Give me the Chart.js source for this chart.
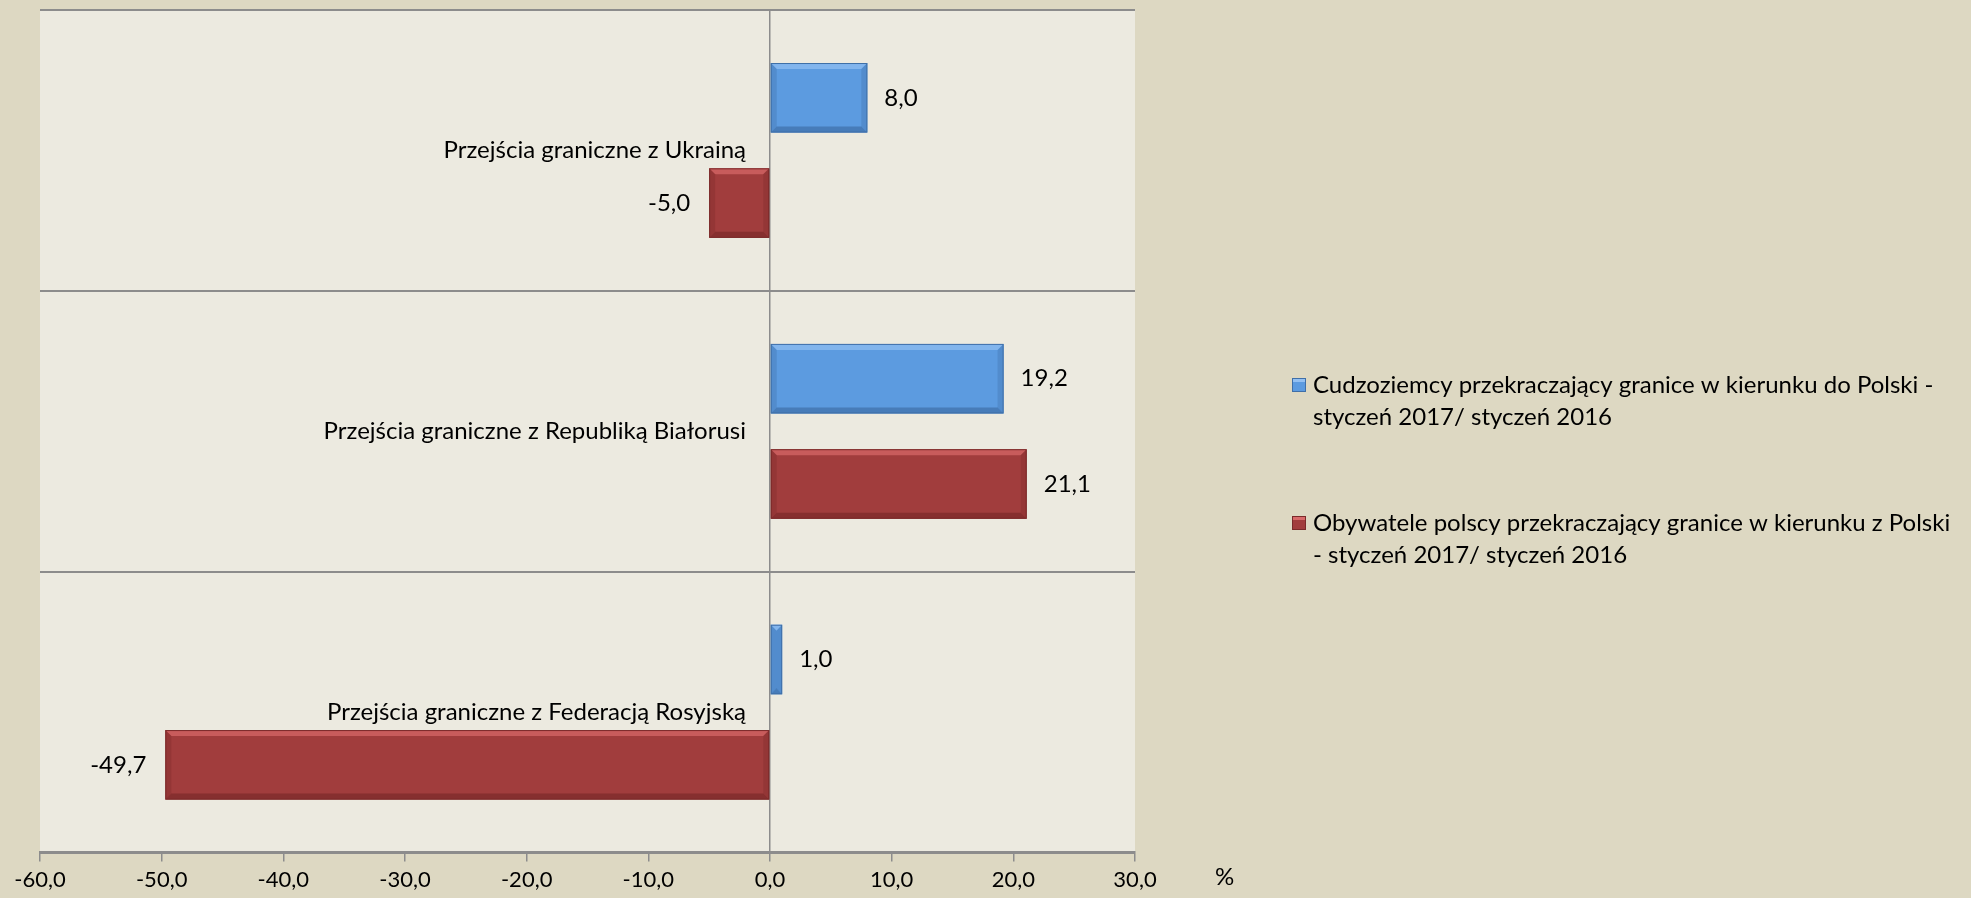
<!DOCTYPE html>
<html>
<head>
<meta charset="utf-8">
<script src="https://cdn.jsdelivr.net/npm/chart.js@4"></script>
<style>
  html, body { margin: 0; padding: 0; background: #ddd8c2; }
  #wrap { width: 1971px; height: 898px; }
</style>
</head>
<body>
<div id="wrap"><canvas id="bar-chartcanvas" width="1971" height="898"></canvas></div>
<script>
// categories (top to bottom)
var categories = ["Przejścia graniczne z Ukrainą", "Przejścia graniczne z Republiką Białorusi", "Przejścia graniczne z Federacją Rosyjską"];

// series values, %
var foreigners = [8.0, 19.2, 1.0];
var polishCitizens = [-5.0, 21.1, -49.7];

var seriesNames = [
    ["Cudzoziemcy przekraczający granice w kierunku do Polski -", "styczeń 2017/ styczeń 2016"],
    ["Obywatele polscy przekraczający granice w kierunku z Polski", "- styczeń 2017/ styczeń 2016"]
];

var xMin = -60, xMax = 30, xStep = 10;
var unitLabel = "%";

var FONT = "Lato";
var blue = "#5c9be0", blueDark = "#3f6fa8", blueLight = "#93c0f2";
var red = "#a13d3d", redDark = "#7a2a2a", redLight = "#d86a6a";

function fmt(v) {
    return v.toFixed(1).replace(".", ",");
}

//plot area background
var plotBg = {
    id: "plotBg",
    beforeDraw: function(chart) {
        var a = chart.chartArea, c = chart.ctx;
        c.save();
        c.fillStyle = "#eceae0";
        c.fillRect(a.left, a.top, a.right - a.left, a.bottom - a.top);
        c.restore();
    }
};

//bevel, value labels, category labels, legend
var decor = {
    id: "decor",
    afterDatasetsDraw: function(chart) {
        var c = chart.ctx;
        var x = chart.scales.x, y = chart.scales.y;
        var area = chart.chartArea;
        var zero = x.getPixelForValue(0);
        c.save();
        chart.data.datasets.forEach(function(ds, di) {
            var meta = chart.getDatasetMeta(di);
            meta.data.forEach(function(bar, i) {
                var l = Math.min(bar.x, bar.base), r = Math.max(bar.x, bar.base);
                var t = bar.y - bar.height / 2, b = bar.y + bar.height / 2;
                var bw = Math.min(6, (r - l) / 2);
                // top highlight
                c.fillStyle = ds.bevelLight;
                c.globalAlpha = 0.7;
                c.beginPath();
                c.moveTo(l, t); c.lineTo(r, t); c.lineTo(r - bw, t + 6); c.lineTo(l + bw, t + 6); c.closePath();
                c.fill();
                // bottom shade
                c.fillStyle = ds.bevelDark;
                c.beginPath();
                c.moveTo(l, b); c.lineTo(r, b); c.lineTo(r - bw, b - 6); c.lineTo(l + bw, b - 6); c.closePath();
                c.fill();
                // sides
                c.globalAlpha = 0.35;
                c.beginPath();
                c.moveTo(l, t); c.lineTo(l + bw, t + 6); c.lineTo(l + bw, b - 6); c.lineTo(l, b); c.closePath();
                c.fill();
                c.beginPath();
                c.moveTo(r, t); c.lineTo(r - bw, t + 6); c.lineTo(r - bw, b - 6); c.lineTo(r, b); c.closePath();
                c.fill();
                c.globalAlpha = 1;
                c.strokeStyle = ds.borderColor;
                c.lineWidth = 1;
                c.strokeRect(l + 0.5, t + 0.5, r - l - 1, b - t - 1);

                // value label
                var v = ds.data[i];
                c.fillStyle = "#000";
                c.font = "24px " + FONT;
                c.textBaseline = "middle";
                if (v >= 0) {
                    c.textAlign = "left";
                    c.fillText(fmt(v), bar.x + 17, bar.y);
                } else {
                    c.textAlign = "right";
                    c.fillText(fmt(v), bar.x - 19, bar.y);
                }
            });
        });

        // category labels beside the zero line
        c.fillStyle = "#000";
        c.font = "24px " + FONT;
        c.textAlign = "right";
        c.textBaseline = "middle";
        categories.forEach(function(cat, i) {
            c.fillText(cat, zero - 24, y.getPixelForValue(i));
        });

        // unit label
        c.textAlign = "left";
        c.fillText(unitLabel, area.right + 80, area.bottom + 25);

        // legend
        var lx = 1292, ly = 385;
        var boxes = [[blue, blueDark, blueLight], [red, redDark, redLight]];
        seriesNames.forEach(function(lines, k) {
            var yy = ly + k * 138;
            c.fillStyle = boxes[k][0];
            c.fillRect(lx, yy - 7, 14, 14);
            c.fillStyle = boxes[k][2];
            c.fillRect(lx + 1, yy - 6, 12, 3);
            c.strokeStyle = boxes[k][1];
            c.lineWidth = 1;
            c.strokeRect(lx + 0.5, yy - 6.5, 13, 13);
            c.fillStyle = "#000";
            c.textAlign = "left";
            lines.forEach(function(line, j) {
                c.fillText(line, lx + 21, yy + j * 32);
            });
        });
        c.restore();
    }
};

var ctx = document.getElementById("bar-chartcanvas");

var data = {
    labels: categories,
    datasets: [
        {
            label: seriesNames[0].join(" "),
            data: foreigners,
            backgroundColor: blue,
            borderColor: blueDark,
            borderWidth: 0,
            bevelLight: blueLight,
            bevelDark: blueDark,
            barPercentage: 0.66,
            categoryPercentage: 0.75
        },
        {
            label: seriesNames[1].join(" "),
            data: polishCitizens,
            backgroundColor: red,
            borderColor: redDark,
            borderWidth: 0,
            bevelLight: redLight,
            bevelDark: redDark,
            barPercentage: 0.66,
            categoryPercentage: 0.75
        }
    ]
};

var options = {
    indexAxis: "y",
    responsive: false,
    animation: false,
    layout: {
        padding: { left: 40, right: 836, top: 10, bottom: 0 }
    },
    plugins: {
        legend: { display: false },
        tooltip: { enabled: false }
    },
    scales: {
        x: {
            min: xMin,
            max: xMax,
            ticks: {
                stepSize: xStep,
                color: "#000",
                font: { family: FONT, size: 22 },
                padding: 5,
                callback: function(v) { return fmt(v); }
            },
            grid: {
                color: function(c) { return c.tick && c.tick.value === 0 ? "#8c8c8c" : "rgba(0,0,0,0)"; },
                lineWidth: 1.5,
                tickColor: "#8c8c8c",
                tickLength: 9,
                tickWidth: 1.5
            },
            border: { display: true, color: "#8c8c8c", width: 3 }
        },
        y: {
            ticks: { display: false },
            grid: {
                offset: true,
                color: "#8c8c8c",
                lineWidth: 2,
                drawTicks: false
            },
            border: { display: false }
        }
    }
};

var chart = new Chart(ctx, {
    type: "bar",
    data: data,
    options: options,
    plugins: [plotBg, decor]
});
</script>
</body>
</html>
